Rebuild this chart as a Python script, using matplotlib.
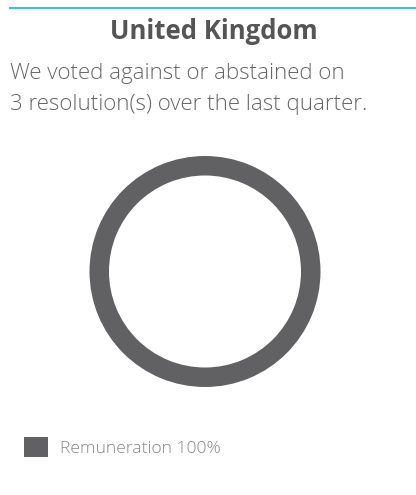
import matplotlib
matplotlib.use('Agg')
import matplotlib.pyplot as plt

# data
categories = ['Remuneration']
shares = [100]
title = 'United Kingdom'
subtitle = ['We voted against or abstained on',
            '3 resolution(s) over the last quarter.']

W, H = 416, 495
fig = plt.figure(figsize=(W / 100, H / 100), dpi=100)
fig.patch.set_facecolor('white')

# cyan rule at top
fig.add_artist(plt.Line2D([10 / W, 1.0], [1 - 8 / H, 1 - 8 / H],
                          color='#35c3ec', lw=1.5))

fig.text(214 / W, 1 - 39 / H, title, ha='center', va='baseline',
         fontsize=18.5, fontweight='bold', family='Open Sans', color='#555555')
fig.text(10 / W, 1 - 79 / H, subtitle[0], ha='left', va='baseline',
         fontsize=16, fontweight='light', family='Open Sans', color='#666666')
fig.text(10 / W, 1 - 110 / H, subtitle[1], ha='left', va='baseline',
         fontsize=16, fontweight='light', family='Open Sans', color='#666666')

# donut
cx, cy, r = 205, 271.5, 115.5
ax = fig.add_axes([(cx - r) / W, (H - cy - r) / H, 2 * r / W, 2 * r / H])
wedges, _ = ax.pie(shares, colors=['#616164'], startangle=90,
                   wedgeprops=dict(width=19.5 / r, edgecolor='none'))
ax.set_xlim(-1, 1)
ax.set_ylim(-1, 1)
ax.set_aspect('equal')
ax.axis('off')

labels = ['%s %d%%' % (c, v) for c, v in zip(categories, shares)]
fig.legend(wedges, labels, loc='center left',
           bbox_to_anchor=(17 / W, 1 - 447 / H), frameon=False,
           prop=dict(family='Open Sans', size=12.6, weight='light'),
           labelcolor='#888888', handlelength=1.35, handleheight=1.35,
           handletextpad=0.7, borderaxespad=0)

fig.savefig('out.png', dpi=100)
